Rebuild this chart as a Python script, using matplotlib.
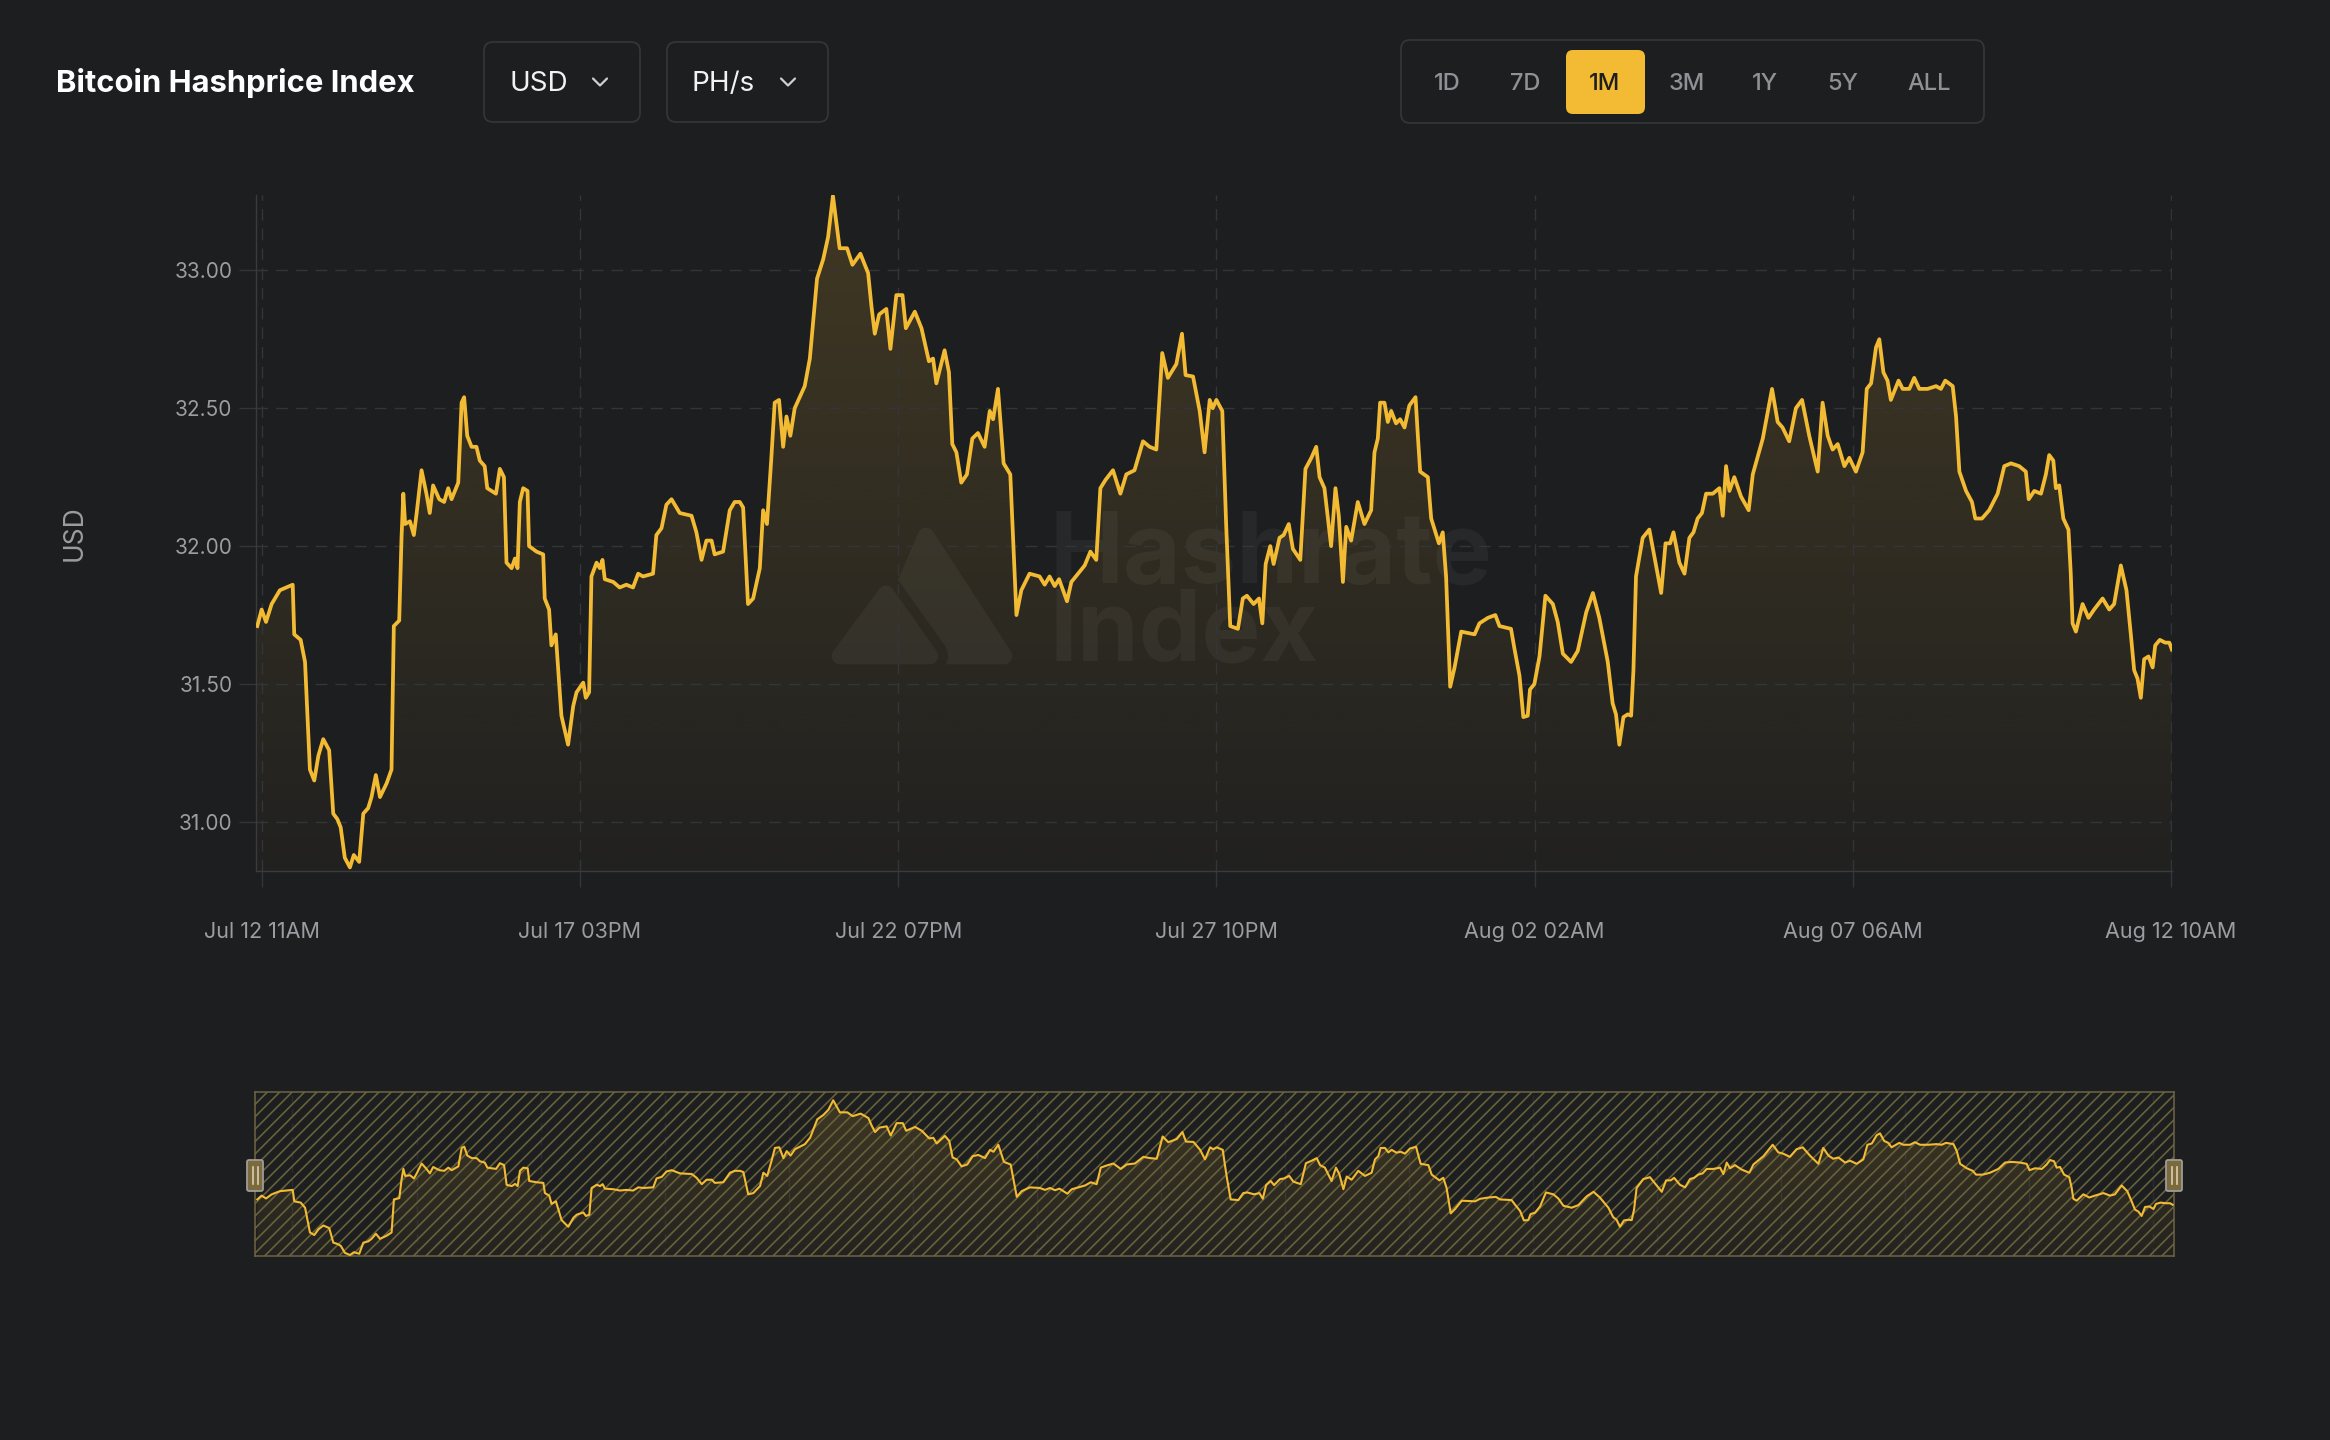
import numpy as np
import matplotlib
matplotlib.use("Agg")
import matplotlib.pyplot as plt
from matplotlib import transforms
from matplotlib.colors import to_rgb
from matplotlib.collections import LineCollection
from matplotlib.patches import FancyBboxPatch, Polygon

# ---------------------------------------------------------
# DATA  (hours since Jul 12 11AM, hashprice in USD per PH/s per day)
# ---------------------------------------------------------
hours = [
    # Jul 12 - Jul 19
    -1.7, 0.0, 1.7, 3.9, 7.1, 12.1, 12.7, 15.2, 16.9, 18.8, 20.5, 22.1, 24.0, 26.3, 27.9,
    29.5, 30.8, 32.4, 34.4, 35.9, 38.0, 39.6, 41.5, 42.8, 44.5, 46.1, 48.7, 50.6, 51.5, 53.6,
    54.5, 55.2, 55.9, 57.8, 59.3, 60.4, 62.3, 64.2, 65.5, 66.8, 69.2, 71.1, 72.7, 74.0, 76.6,
    77.9, 78.9, 80.1, 81.8, 83.7, 85.0, 86.9, 87.9, 91.3, 92.8, 94.4, 95.4, 97.4, 98.7, 99.7,
    100.6, 101.9, 103.6, 104.2, 107.1, 109.7, 110.3, 112.0, 112.9, 114.6, 116.8, 119.4, 121.4,
    122.7, 125.3, 126.3, 127.6, 128.5, 130.5, 131.8, 132.8, 133.7, 137.0, 139.5, 142.1, 144.7,
    146.7, 148.6, 152.5, 153.8, 155.8, 157.7, 159.7, 162.9, 167.5, 169.4, 171.4, 173.3, 175.3,
    176.5, 179.8, 182.4,
    # Jul 19 - Jul 27
    184.3, 186.3, 187.6, 189.5, 191.5, 194.1, 195.4, 196.9, 198.6, 199.9, 201.6, 203.2, 204.5,
    206.0, 207.7, 211.6, 213.6, 216.4, 218.8, 220.7, 222.6, 225.2, 228.1, 230.2, 233.3, 236.3,
    237.6, 238.9, 240.6, 243.4, 245.0, 247.3, 249.7, 251.0, 254.5, 257.1, 260.0, 261.6, 262.9,
    266.1, 267.8, 269.1, 270.7, 272.6, 274.8, 276.9, 279.1, 281.7, 283.7, 285.0, 286.9, 289.1,
    291.7, 294.1, 296.0, 299.2, 303.1, 305.1, 307.0, 309.0, 310.7, 313.8, 315.5, 318.1, 320.7,
    322.9, 325.2, 326.8, 328.8, 331.7, 334.6, 336.9, 340.1, 343.4, 346.0, 348.6, 350.9, 353.1,
    356.4, 358.6, 360.0, 362.9, 365.5, 367.4, 369.4,
    # Jul 27 - Aug 04
    370.6, 372.0, 374.3, 375.8, 377.4, 380.4, 382.3, 383.9, 386.5, 388.6, 389.9, 391.2, 393.0,
    394.3, 396.6, 398.2, 400.2, 401.8, 404.7, 406.7, 409.0, 410.9, 412.2, 414.1, 416.7, 418.4,
    419.7, 421.3, 422.6, 424.5, 427.1, 429.7, 432.3, 433.6, 434.9, 435.8, 437.5, 438.8, 440.1,
    442.0, 443.6, 445.3, 447.2, 449.6, 450.5, 451.4, 454.4, 455.7, 458.7, 460.2, 461.5, 463.1,
    464.8, 467.4, 472.6, 474.5, 477.8, 480.7, 482.3, 486.8, 488.1, 490.1, 491.6, 493.3, 494.2,
    495.9, 497.9, 500.2, 503.1, 505.0, 507.0, 510.2, 512.8, 516.1, 518.7, 521.2, 524.5, 526.4,
    527.7, 529.0, 530.6, 532.3, 533.6, 534.5, 535.5, 538.1, 540.7, 542.3, 545.3, 547.0, 548.8,
    550.1, 552.4, 554.4, 556.3,
    # Aug 04 - Aug 12
    557.9, 559.5, 561.2, 562.8, 565.4, 568.0, 569.3, 570.6, 571.9, 573.8, 576.4, 579.4, 581.0,
    584.9, 588.5, 590.7, 592.6, 595.2, 597.8, 600.2, 603.0, 606.3, 608.2, 610.2, 612.1, 614.1,
    616.7, 618.6, 621.2, 623.8, 625.4, 627.1, 629.0, 630.3, 631.9, 633.5, 634.8, 637.8, 639.4,
    642.0, 643.9, 645.9, 649.1, 652.4, 654.3, 656.0, 658.9, 660.2, 661.5, 664.1, 666.4, 667.7,
    670.3, 673.1, 676.4, 679.0, 681.6, 684.8, 687.4, 688.5, 690.7, 693.3, 695.2, 696.5, 698.1,
    699.1, 700.4, 702.0, 704.0, 704.9, 705.6, 706.9, 709.5, 711.8, 714.0, 717.3, 719.9, 721.8,
    724.4, 726.6, 728.3, 729.6, 730.9, 732.2, 733.5, 735.2, 736.8, 737.8, 739.6, 741.7, 743.3,
    744.3,
]

hashprice = [
    # Jul 12 - Jul 19
    31.71, 31.77, 31.725, 31.79, 31.84, 31.86, 31.68, 31.66, 31.58, 31.19, 31.15, 31.24, 31.30, 31.26, 31.03,
    31.01, 30.98, 30.87, 30.835, 30.88, 30.855, 31.03, 31.05, 31.09, 31.17, 31.09, 31.14, 31.19, 31.71, 31.73,
    32.03, 32.19, 32.08, 32.09, 32.04, 32.12, 32.275, 32.19, 32.12, 32.22, 32.17, 32.16, 32.21, 32.17, 32.23,
    32.52, 32.54, 32.40, 32.36, 32.36, 32.31, 32.29, 32.21, 32.19, 32.28, 32.25, 31.94, 31.92, 31.955, 31.92,
    32.16, 32.21, 32.20, 32.00, 31.98, 31.97, 31.81, 31.77, 31.64, 31.68, 31.385, 31.28, 31.42,
    31.47, 31.505, 31.45, 31.47, 31.89, 31.94, 31.92, 31.95, 31.88, 31.87, 31.85, 31.86, 31.85,
    31.90, 31.89, 31.90, 32.04, 32.065, 32.15, 32.17, 32.12, 32.11, 32.05, 31.95, 32.02, 32.02,
    31.97, 31.98, 32.13,
    # Jul 19 - Jul 27
    32.16, 32.16, 32.14, 31.79, 31.81, 31.92, 32.13, 32.08, 32.32, 32.52, 32.53, 32.36, 32.47,
    32.40, 32.50, 32.58, 32.68, 32.97, 33.04, 33.12, 33.27, 33.08, 33.08, 33.02, 33.06, 32.99,
    32.87, 32.77, 32.84, 32.86, 32.715, 32.91, 32.91, 32.79, 32.85, 32.79, 32.67, 32.68, 32.59,
    32.71, 32.63, 32.37, 32.34, 32.23, 32.26, 32.39, 32.41, 32.36, 32.49, 32.46, 32.57, 32.30,
    32.26, 31.75, 31.84, 31.90, 31.89, 31.86, 31.89, 31.855, 31.88, 31.80, 31.87, 31.90, 31.93,
    31.98, 31.95, 32.21, 32.24, 32.275, 32.19, 32.26, 32.275, 32.38, 32.36, 32.35, 32.70, 32.61,
    32.66, 32.77, 32.62, 32.615, 32.49, 32.34, 32.53,
    # Jul 27 - Aug 04
    32.50, 32.53, 32.49, 32.08, 31.71, 31.70, 31.81, 31.82, 31.79, 31.81, 31.72, 31.935, 32.00,
    31.935, 32.03, 32.04, 32.08, 31.99, 31.95, 32.28, 32.32, 32.36, 32.25, 32.21, 32.00, 32.21,
    32.11, 31.87, 32.07, 32.02, 32.16, 32.08, 32.13, 32.34, 32.39, 32.52, 32.52, 32.45, 32.49,
    32.445, 32.46, 32.43, 32.51, 32.54, 32.40, 32.27, 32.25, 32.10, 32.01, 32.05, 31.89, 31.49,
    31.56, 31.69, 31.68, 31.72, 31.74, 31.75, 31.71, 31.70, 31.63, 31.53, 31.38, 31.385, 31.48,
    31.50, 31.60, 31.82, 31.79, 31.725, 31.61, 31.58, 31.62, 31.76, 31.83, 31.74, 31.58, 31.43,
    31.39, 31.28, 31.38, 31.39, 31.385, 31.55, 31.89, 32.03, 32.06, 31.98, 31.83, 32.01, 32.01,
    32.05, 31.94, 31.90, 32.03,
    # Aug 04 - Aug 12
    32.05, 32.10, 32.12, 32.19, 32.19, 32.21, 32.11, 32.29, 32.20, 32.25, 32.18, 32.13, 32.26,
    32.39, 32.57, 32.45, 32.43, 32.38, 32.50, 32.53, 32.40, 32.27, 32.52, 32.40, 32.35, 32.37,
    32.29, 32.32, 32.27, 32.34, 32.57, 32.59, 32.72, 32.75, 32.63, 32.60, 32.53, 32.60, 32.57,
    32.57, 32.61, 32.57, 32.57, 32.58, 32.57, 32.60, 32.58, 32.47, 32.27, 32.20, 32.16, 32.10,
    32.10, 32.13, 32.19, 32.29, 32.30, 32.29, 32.27, 32.17, 32.20, 32.19, 32.26, 32.33, 32.31,
    32.21, 32.22, 32.10, 32.06, 31.90, 31.72, 31.69, 31.79, 31.74, 31.77, 31.81, 31.77, 31.79,
    31.93, 31.84, 31.68, 31.55, 31.52, 31.45, 31.59, 31.60, 31.56, 31.64, 31.66, 31.65, 31.65,
    31.625,
]

x_tick_hours = [0, 124, 248, 372, 496, 620, 744]
x_tick_labels = ["Jul 12 11AM", "Jul 17 03PM", "Jul 22 07PM", "Jul 27 10PM",
                 "Aug 02 02AM", "Aug 07 06AM", "Aug 12 10AM"]
y_ticks = [31.00, 31.50, 32.00, 32.50, 33.00]

title = "Bitcoin Hashprice Index"
currency = "USD"
unit = "PH/s"
range_labels = ["1D", "7D", "1M", "3M", "1Y", "5Y", "ALL"]
active_range = "1M"

assert len(hours) == len(hashprice)

# ---------------------------------------------------------
# STYLE
# ---------------------------------------------------------
W, H = 2330, 1440
BG = "#1d1e20"
GOLD = "#f2bb33"
GRID = "#333538"
SPINE = "#3a3b3e"
TXT = "#9a9da1"
WM = "#27282a"
HATCH = "#67623a"
NAV_EDGE = "#6e6443"

plt.rcParams["font.family"] = ["Inter", "DejaVu Sans"]

fig = plt.figure(figsize=(W / 100, H / 100), dpi=100, facecolor=BG)


def rect(x0, y0, x1, y1):
    # pixel box with top-left origin -> figure fraction rect
    return [x0 / W, 1 - y1 / H, (x1 - x0) / W, (y1 - y0) / H]


def overlay(z):
    a = fig.add_axes([0, 0, 1, 1], zorder=z)
    a.set_xlim(0, W)
    a.set_ylim(H, 0)
    a.axis("off")
    return a


def gradient_fill(a, x, y, lo, hi, a_top, a_bot, z=1):
    poly = a.fill_between(x, y, lo, color="none", lw=0)
    grad = np.zeros((256, 1, 4))
    grad[..., :3] = to_rgb(GOLD)
    grad[:, 0, 3] = np.linspace(a_bot, a_top, 256)
    xl = a.get_xlim()
    im = a.imshow(grad, extent=[xl[0], xl[1], lo, hi], origin="lower",
                  aspect="auto", zorder=z, interpolation="bilinear")
    im.set_clip_path(poly.get_paths()[0], transform=a.transData)


# ---------------------------------------------------------
# WATERMARK (behind the chart)
# ---------------------------------------------------------
back = overlay(-1)
back.add_patch(Polygon([(874, 656), (926, 536), (1004, 656)], closed=True,
                       fc=WM, ec=WM, lw=12, joinstyle="round"))
back.add_patch(Polygon([(840, 656), (886, 594), (930, 656)], closed=True,
                       fc=WM, ec=BG, lw=26, joinstyle="round"))
back.add_patch(Polygon([(840, 656), (886, 594), (930, 656)], closed=True,
                       fc=WM, ec=WM, lw=12, joinstyle="round"))
back.text(1050, 661, "Hashrate\nIndex", fontsize=71.5, fontweight="bold", color=WM,
          ha="left", va="baseline", linespacing=0.81, multialignment="left")

# ---------------------------------------------------------
# MAIN CHART
# ---------------------------------------------------------
ax = fig.add_axes(rect(256, 195, 2172.4, 871))
ax.set_facecolor("none")
xlim = (-2.2, 744.5)
ylim = (30.822, 33.273)
ax.set_xlim(*xlim)
gradient_fill(ax, hours, hashprice, ylim[0], ylim[1], 0.17, 0.02)
ax.plot(hours, hashprice, color=GOLD, lw=2.7, solid_joinstyle="round", zorder=3)
ax.set_xlim(*xlim)
ax.set_ylim(*ylim)

ax.set_xticks(x_tick_hours, x_tick_labels)
ax.set_yticks(y_ticks, [f"{v:.2f}" for v in y_ticks])
ax.grid(True, color=GRID, ls=(0, (8.4, 5.8)), lw=1.0)
ax.tick_params(axis="x", length=11.5, width=1.0, color=GRID, pad=25,
               labelsize=15.5, labelcolor=TXT)
ax.tick_params(axis="y", length=12, width=1.0, color=GRID, pad=5,
               labelsize=15, labelcolor=TXT)
for s in ["top", "right"]:
    ax.spines[s].set_visible(False)
for s in ["left", "bottom"]:
    ax.spines[s].set_color(SPINE)
    ax.spines[s].set_linewidth(1.0)
ax.set_ylabel("USD", color=TXT, fontsize=19)
ax.yaxis.set_label_coords(-0.088, 0.5)

# ---------------------------------------------------------
# NAVIGATOR
# ---------------------------------------------------------
NX0, NY0, NX1, NY1 = 255, 1092, 2174, 1256
nav = fig.add_axes(rect(NX0, NY0, NX1, NY1))
nav.set_facecolor("none")
nav_xlim = (-2.6, 744.8)
nav_ylim = (30.82, 33.40)
nav.set_xlim(*nav_xlim)
gradient_fill(nav, hours, hashprice, nav_ylim[0], nav_ylim[1], 0.17, 0.03)
for h in np.arange(12, 745, 48.3):
    nav.axvline(h, color="#2c2d33", lw=1.0, ls=(0, (6, 4)), zorder=0.5)

nw, nh = NX1 - NX0, NY1 - NY0
hatch_tf = transforms.Affine2D().scale(1 / nw, 1 / nh) + nav.transAxes
segs = [[(c, 0), (c + nh, nh)] for c in np.arange(-nh, nw + 1, 12.4)]
nav.add_collection(LineCollection(segs, colors=HATCH, linewidths=1.2,
                                  transform=hatch_tf, zorder=2))
nav.plot(hours, hashprice, color=GOLD, lw=1.5, solid_joinstyle="round", zorder=3)
nav.set_xlim(*nav_xlim)
nav.set_ylim(*nav_ylim)
nav.set_xticks([])
nav.set_yticks([])
for s in nav.spines.values():
    s.set_color(NAV_EDGE)
    s.set_linewidth(1.1)

# ---------------------------------------------------------
# HEADER + NAVIGATOR HANDLES (on top)
# ---------------------------------------------------------
top = overlay(10)


def box(x0, y0, x1, y1, r=9, fc=BG, ec="#343539", lw=1.3):
    top.add_patch(FancyBboxPatch((x0, y0), x1 - x0, y1 - y0,
                                 boxstyle=f"round,pad=0,rounding_size={r}",
                                 fc=fc, ec=ec, lw=lw))


def chevron(cx, cy):
    top.plot([cx - 7, cx, cx + 7], [cy - 3.5, cy + 3.5, cy - 3.5],
             color="#cfd0d2", lw=1.6, solid_capstyle="round", solid_joinstyle="round")


top.text(56, 83, title, fontsize=22.3, fontweight="bold", color="white",
         ha="left", va="center")

box(484, 42, 640, 122)
top.text(510, 84, currency, fontsize=20, color="#f2f2f2", ha="left", va="center")
chevron(600, 82)

box(667, 42, 828, 122)
top.text(692, 84, unit, fontsize=20, color="#f2f2f2", ha="left", va="center")
chevron(788, 82)

box(1401, 40, 1984, 123)
range_x = [1447, 1525, 1605, 1687, 1765, 1843, 1929]
for lab, cx in zip(range_labels, range_x):
    if lab == active_range:
        box(1566, 50, 1645, 114, r=7, fc=GOLD, ec="none", lw=0)
        col = BG
    else:
        col = "#8e9196"
    top.text(cx, 84.5, lab, fontsize=17, fontweight="medium", color=col,
             ha="center", va="center")

for cx in (NX0, NX1):
    top.add_patch(FancyBboxPatch((cx - 8, 1160), 16, 31,
                                 boxstyle="round,pad=0,rounding_size=2",
                                 fc="#7a6a3e", ec="#9d9c98", lw=1.3))
    for dx in (-2.5, 2.5):
        top.plot([cx + dx, cx + dx], [1167, 1184], color="#d8cfae", lw=1.2)

fig.savefig("out.png", dpi=100, facecolor=BG)
